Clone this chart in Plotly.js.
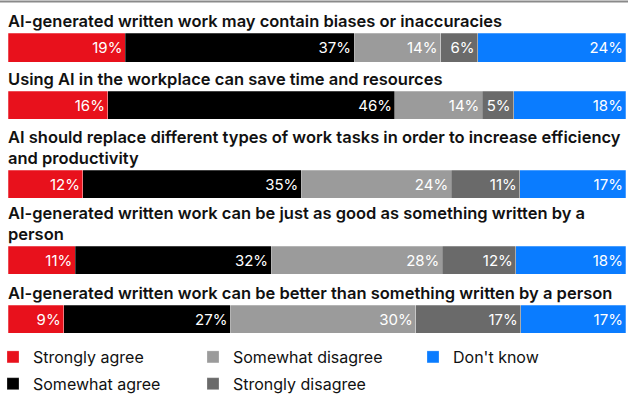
<!DOCTYPE html>
<html>
<head>
<meta charset="utf-8">
<script src="https://cdn.plot.ly/plotly-3.0.1.min.js"></script>
<style>html,body{margin:0;padding:0;background:#fff;}#chart{width:628px;height:397px;}</style>
</head>
<body>
<div id="chart"></div>
<script>
// ---- data ----
var questions = [
  "AI-generated written work may contain biases or inaccuracies",
  "Using AI in the workplace can save time and resources",
  "AI should replace different types of work tasks in order to increase efficiency<br>and productivity",
  "AI-generated written work can be just as good as something written by a<br>person",
  "AI-generated written work can be better than something written by a person"
];
var responses = ["Strongly agree", "Somewhat agree", "Somewhat disagree", "Strongly disagree", "Don't know"];
var stronglyAgree    = [19, 16, 12, 11, 9];
var somewhatAgree    = [37, 46, 35, 32, 27];
var somewhatDisagree = [14, 14, 24, 28, 30];
var stronglyDisagree = [6, 5, 11, 12, 17];
var dontKnow         = [24, 18, 17, 18, 17];

// ---- styles / layout ----
var series = [stronglyAgree, somewhatAgree, somewhatDisagree, stronglyDisagree, dontKnow];
var colors = ["#e8111c", "#000000", "#9b9b9b", "#6a6a6a", "#0a7cff"];
var legendOf = ["legend", "legend", "legend2", "legend2", "legend3"];
var W = 628, H = 397;
var barPx = [[33, 62], [91, 119], [170, 198], [246, 274], [305, 333]];
var FONT = "Inter, 'Noto Sans', Roboto, sans-serif";

var traces = [];
responses.forEach(function (r, ri) {
  questions.forEach(function (q, qi) {
    var v = series[ri][qi];
    traces.push({
      type: "bar",
      orientation: "h",
      name: r,
      x: [v],
      y: ["q"],
      text: [v + "%"],
      textposition: "inside",
      insidetextanchor: "end",
      textangle: 0,
      textfont: {family: FONT, size: 15, color: "#ffffff"},
      constraintext: "none",
      cliponaxis: false,
      hoverinfo: "none",
      marker: {color: colors[ri], line: {color: "rgba(255,255,255,0.5)", width: 0.5}},
      xaxis: "x",
      yaxis: qi === 0 ? "y" : "y" + (qi + 1),
      legend: legendOf[ri],
      legendgroup: r,
      showlegend: qi === 0
    });
  });
});

var layout = {
  width: W, height: H,
  margin: {l: 0, r: 0, t: 0, b: 0, autoexpand: false},
  paper_bgcolor: "#ffffff",
  plot_bgcolor: "#ffffff",
  barmode: "stack",
  barnorm: "percent",
  bargap: 0,
  font: {family: FONT, color: "#111111"},
  xaxis: {domain: [8 / W, 626 / W], range: [0, 100.02], visible: false, fixedrange: true},
  annotations: [],
  shapes: [{type: "line", xref: "paper", yref: "paper", x0: 0, x1: 1, y0: 1 - 1.5 / H, y1: 1 - 1.5 / H,
            line: {color: "#8a8a8a", width: 2}}],
  showlegend: true
};

questions.forEach(function (q, qi) {
  var key = qi === 0 ? "yaxis" : "yaxis" + (qi + 1);
  layout[key] = {
    domain: [1 - barPx[qi][1] / H, 1 - barPx[qi][0] / H],
    range: [-0.5, 0.5],
    visible: false,
    fixedrange: true,
    anchor: "x"
  };
  layout.annotations.push({
    xref: "paper", x: 6 / W, xanchor: "left",
    yref: (qi === 0 ? "y" : "y" + (qi + 1)) + " domain", y: 1, yanchor: "bottom", yshift: 0,
    text: q, showarrow: false, align: "left",
    font: {family: FONT, size: 16.5, color: "#111111", weight: 600}
  });
});

var legendBase = {
  orientation: "v", yanchor: "top", y: 1 - 340 / H, xanchor: "left",
  bgcolor: "rgba(0,0,0,0)", borderwidth: 0,
  font: {family: FONT, size: 16, color: "#111111"},
  traceorder: "grouped", tracegroupgap: 3, itemclick: false, itemdoubleclick: false
};
layout.legend = Object.assign({}, legendBase, {x: -7 / W});
layout.legend2 = Object.assign({}, legendBase, {x: 193 / W});
layout.legend3 = Object.assign({}, legendBase, {x: 413 / W});

Plotly.newPlot("chart", traces, layout, {displayModeBar: false, staticPlot: true});
</script>
</body>
</html>
